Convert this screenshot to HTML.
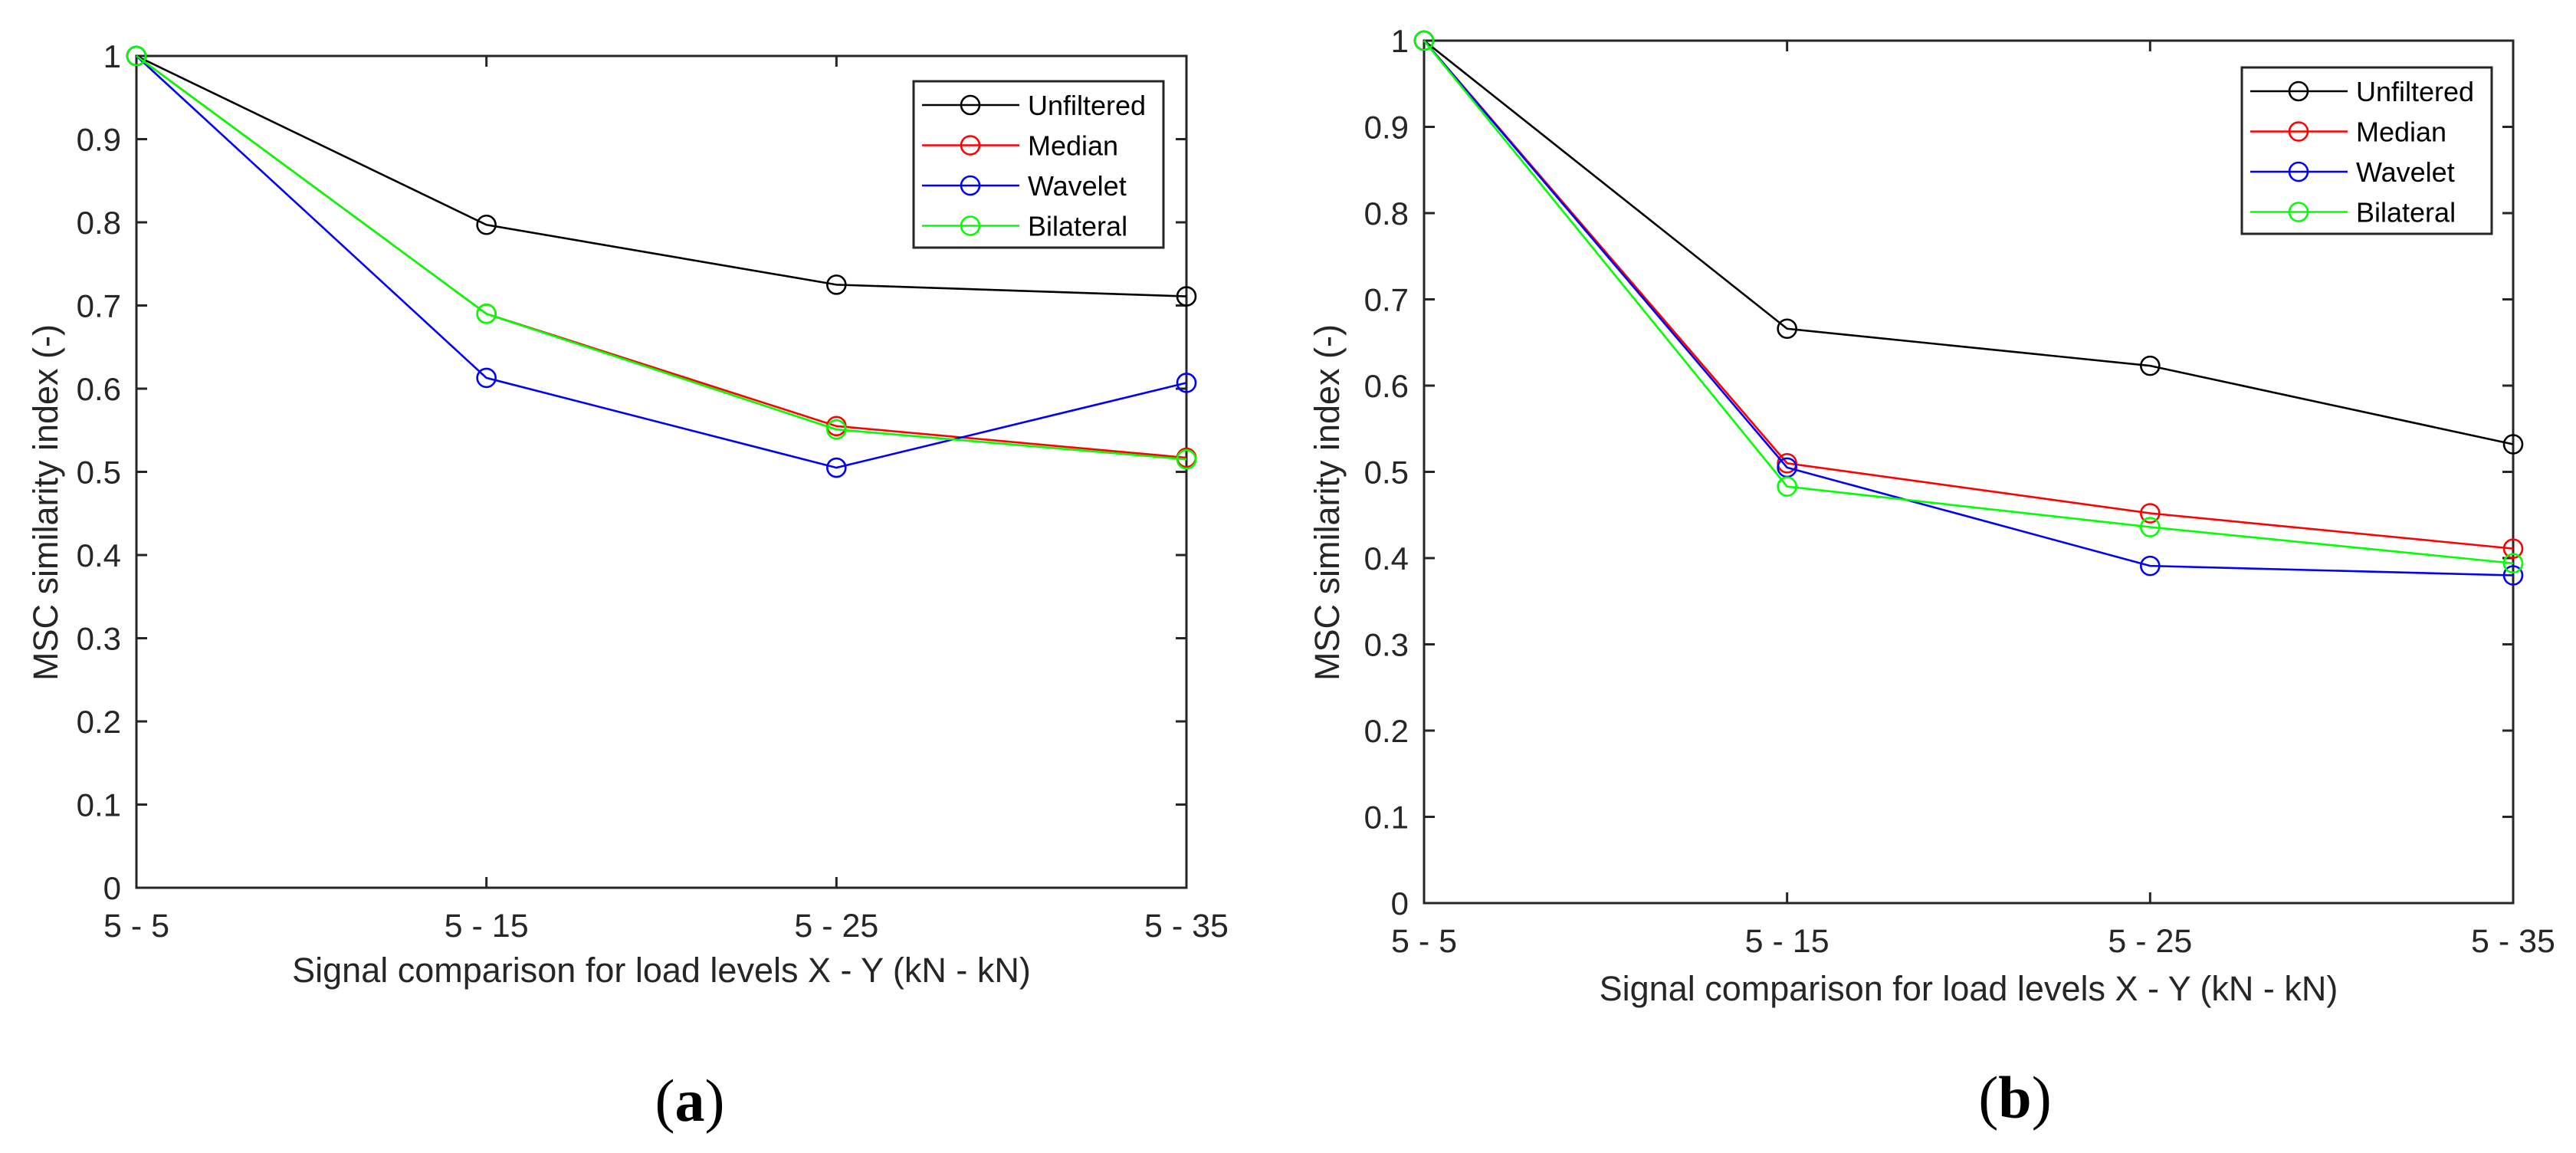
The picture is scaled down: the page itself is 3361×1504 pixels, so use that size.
<!DOCTYPE html>
<html><head><meta charset="utf-8"><style>
html,body{margin:0;padding:0;background:#fff;}
svg{display:block;font-family:"Liberation Sans",Arial,sans-serif;}
</style></head><body>
<svg id="fig" width="3361" height="1504" viewBox="0 0 3361 1504" xmlns="http://www.w3.org/2000/svg"></svg>
<script>
const categories = ["5 - 5","5 - 15","5 - 25","5 - 35"];
const yTicks = [0,0.1,0.2,0.3,0.4,0.5,0.6,0.7,0.8,0.9,1];
const yTickLabels = ["0","0.1","0.2","0.3","0.4","0.5","0.6","0.7","0.8","0.9","1"];
const seriesNames = ["Unfiltered","Median","Wavelet","Bilateral"];
const seriesColors = ["#000000","#ff0000","#0000ff","#00ff00"];
const aUnfiltered = [1,0.797,0.725,0.711];
const aMedian = [1,0.69,0.555,0.517];
const aWavelet = [1,0.613,0.505,0.607];
const aBilateral = [1,0.69,0.551,0.515];
const bUnfiltered = [1,0.666,0.623,0.532];
const bMedian = [1,0.51,0.452,0.411];
const bWavelet = [1,0.505,0.391,0.38];
const bBilateral = [1,0.483,0.436,0.394];

const NS="http://www.w3.org/2000/svg";
const svg=document.getElementById('fig');
function mk(tag,attrs,parent){const e=document.createElementNS(NS,tag);for(const k in attrs)e.setAttribute(k,attrs[k]);(parent||svg).appendChild(e);return e;}

function drawChart(cfg){
  const g=mk('g',{});
  
  
  const L=cfg.L,R=cfg.R,T=cfg.T,B=cfg.B;
  const xs=i=>L+(R-L)*i/(categories.length-1);
  const ys=v=>B-(B-T)*v;
  const box=mk('rect',{x:L,y:T,width:R-L,height:B-T,fill:'none',stroke:'#262626','stroke-width':3},g);
  
  
  yTicks.forEach((v,i)=>{
    const y=ys(v);
    mk('line',{x1:L,y1:y,x2:L+14,y2:y,stroke:'#262626','stroke-width':3},g);
    mk('line',{x1:R,y1:y,x2:R-14,y2:y,stroke:'#262626','stroke-width':3},g);
    const t=mk('text',{x:L-20,y:y+15,'text-anchor':'end','font-size':42,fill:'#262626'},g);
    t.textContent=yTickLabels[i];
    
    
  });
  categories.forEach((c,i)=>{
    const x=xs(i);
    mk('line',{x1:x,y1:B,x2:x,y2:B-14,stroke:'#262626','stroke-width':3},g);
    mk('line',{x1:x,y1:T,x2:x,y2:T+14,stroke:'#262626','stroke-width':3},g);
    const t=mk('text',{x:x,y:B+64,'text-anchor':'middle','font-size':43,fill:'#262626'},g);
    t.textContent=c;
    
    
  });
  const xt=mk('text',{x:(L+R)/2,y:cfg.xTitleY,'text-anchor':'middle','font-size':45,fill:'#262626'},g);
  xt.textContent='Signal comparison for load levels X - Y (kN - kN)';
  
  
  const yt=mk('text',{x:0,y:0,'text-anchor':'middle','font-size':45,fill:'#262626',transform:`translate(${cfg.yTitleX},${(T+B)/2+40}) rotate(-90)`},g);
  yt.textContent='MSC similarity index (-)';
  
  
  cfg.series.forEach((vals,si)=>{
    const pts=vals.map((v,i)=>xs(i)+','+ys(v)).join(' ');
    const pl=mk('polyline',{points:pts,fill:'none',stroke:seriesColors[si],'stroke-width':2.6},g);
    
    
    vals.forEach((v,i)=>{
      const c=mk('circle',{cx:xs(i),cy:ys(v),r:12,fill:'none',stroke:seriesColors[si],'stroke-width':2.6},g);
      
      
    });
  });
  const lg=mk('g',{},g);
  
  
  const lx=cfg.legX,ly=cfg.legY;
  mk('rect',{x:lx,y:ly,width:326,height:217,fill:'#fff',stroke:'#262626','stroke-width':3},lg);
  seriesNames.forEach((n,i)=>{
    const y=ly+31+i*52.5;
    const le=mk('g',{},lg);
    
    
    mk('line',{x1:lx+11,y1:y,x2:lx+138,y2:y,stroke:seriesColors[i],'stroke-width':2.6},le);
    mk('circle',{cx:lx+74,cy:y,r:12,fill:'none',stroke:seriesColors[i],'stroke-width':2.6},le);
    const t=mk('text',{x:lx+149,y:y+13,'font-size':36,fill:'#000'},le);
    t.textContent=n;
  });
  const cap=mk('text',{x:cfg.capX,y:cfg.capY,'text-anchor':'middle','font-size':78,fill:'#000','font-family':'"Liberation Serif",serif'},g);
  cap.innerHTML='(<tspan font-weight="bold">'+cfg.cap+'</tspan>)';
  
  
}
drawChart({id:'chart-a',L:178,R:1548,T:73,B:1158,xTitleY:1281,yTitleX:75,
  series:[aUnfiltered,aMedian,aWavelet,aBilateral],legX:1192,legY:106,capX:900,capY:1462,cap:'a'});
drawChart({id:'chart-b',L:1858,R:3279,T:53,B:1178,xTitleY:1305,yTitleX:1747,
  series:[bUnfiltered,bMedian,bWavelet,bBilateral],legX:2925,legY:88,capX:2629,capY:1458,cap:'b'});
</script>
</body></html>
